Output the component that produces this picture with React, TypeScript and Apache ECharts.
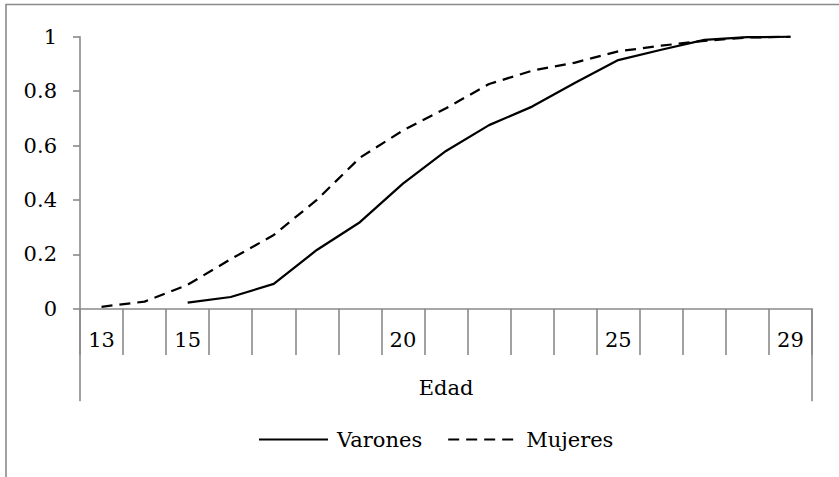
import React, { useEffect, useRef } from "react";
import * as echarts from "echarts";

const ages = ["13", "14", "15", "16", "17", "18", "19", "20", "21", "22", "23", "24", "25", "26", "27", "28", "29"];
const shownAgeLabels = ["13", "15", "20", "25", "29"];
const varones = [null, null, 0.022, 0.043, 0.091, 0.216, 0.318, 0.46, 0.58, 0.675, 0.743, 0.831, 0.914, 0.952, 0.988, 0.998, 1.0];
const mujeres = [0.007, 0.026, 0.088, 0.182, 0.271, 0.4, 0.555, 0.655, 0.737, 0.826, 0.875, 0.905, 0.946, 0.967, 0.985, 0.997, 1.0];
const outerCategory = ["Edad"];
const seriesNames = ["Varones", "Mujeres"];

const FONT = "DejaVu Serif";
const FS = 21;
const GRAY = "#8a8a8a";

export default function App() {
  const ref = useRef<HTMLDivElement>(null);
  useEffect(() => {
    document.body.style.margin = "0";
    if (!ref.current) return;
    const chart = echarts.init(ref.current, null, { renderer: "svg" });
    const grid = { left: 80, right: 27, top: 36.7, bottom: 168.3, containLabel: false };
    chart.setOption({
      animation: false,
      backgroundColor: "#ffffff",
      textStyle: { fontFamily: FONT },
      graphic: [
        {
          type: "rect",
          shape: { x: 6, y: 4.5, width: 900, height: 600 },
          style: { fill: "none", stroke: GRAY, lineWidth: 1.6 },
          silent: true,
          z: -10,
        },
      ],
      grid: [grid, { ...grid }],
      xAxis: [
        {
          type: "category",
          gridIndex: 0,
          data: ages,
          boundaryGap: true,
          axisLine: { show: true, lineStyle: { color: GRAY, width: 1.6 } },
          axisTick: { show: true, interval: 0, length: 46.3, lineStyle: { color: GRAY, width: 1.6 } },
          axisLabel: {
            interval: 0,
            margin: 21,
            color: "#000",
            fontSize: FS,
            fontFamily: FONT,
            formatter: (v: string) => (shownAgeLabels.includes(v) ? v : ""),
          },
          splitLine: { show: false },
        },
        {
          type: "category",
          gridIndex: 1,
          data: outerCategory,
          boundaryGap: true,
          axisLine: { show: false },
          axisTick: { show: true, interval: 0, length: 92.5, lineStyle: { color: GRAY, width: 1.6 } },
          axisLabel: { margin: 69, color: "#000", fontSize: FS, fontFamily: FONT },
          splitLine: { show: false },
        },
      ],
      yAxis: [
        {
          type: "value",
          gridIndex: 0,
          min: 0,
          max: 1,
          interval: 0.2,
          axisLine: { show: true, lineStyle: { color: GRAY, width: 1.6 } },
          axisTick: { show: true, length: 7, lineStyle: { color: GRAY, width: 1.6 } },
          axisLabel: { margin: 23, color: "#000", fontSize: FS, fontFamily: FONT },
          splitLine: { show: false },
        },
        { type: "value", gridIndex: 1, show: false, min: 0, max: 1 },
      ],
      legend: {
        left: 253,
        top: 424,
        itemWidth: 69,
        itemHeight: 14,
        itemGap: 25,
        itemStyle: { opacity: 0 },
        textStyle: { color: "#000", fontSize: FS, fontFamily: FONT, padding: [0, 0, 0, 4] },
        data: seriesNames,
      },
      series: [
        {
          name: seriesNames[0],
          type: "line",
          xAxisIndex: 0,
          yAxisIndex: 0,
          data: varones,
          symbol: "none",
          lineStyle: { color: "#000", width: 2.25, type: "solid" },
          itemStyle: { color: "#000" },
        },
        {
          name: seriesNames[1],
          type: "line",
          xAxisIndex: 0,
          yAxisIndex: 0,
          data: mujeres,
          symbol: "none",
          lineStyle: { color: "#000", width: 2.25, type: [11, 7] },
          itemStyle: { color: "#000" },
        },
      ],
    });
    return () => chart.dispose();
  }, []);
  return <div ref={ref} style={{ width: 839, height: 477 }} />;
}
